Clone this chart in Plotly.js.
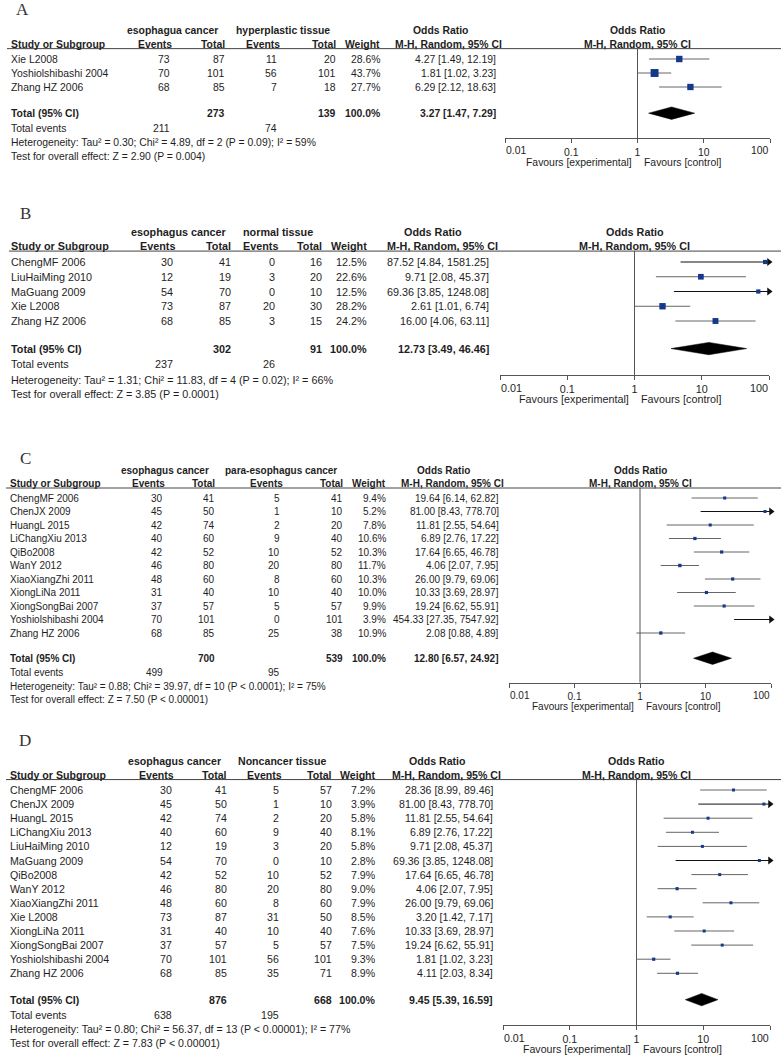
<!DOCTYPE html>
<html><head><meta charset="utf-8">
<script src="https://cdn.plot.ly/plotly-3.0.1.min.js"></script>
<style>html,body{margin:0;padding:0;background:#fff}#chart{width:781px;height:1056px}</style>
</head><body><div id="chart"></div>
<script>
// ---------- Panel A: esophagus cancer vs hyperplastic tissue ----------
const groupsA = ["esophagua cancer", "hyperplastic tissue"];
const studiesA = ["Xie L2008", "Yoshiolshibashi 2004", "Zhang HZ 2006"];
const evExpA = [73, 70, 68];
const totExpA = [87, 101, 85];
const evCtlA = [11, 56, 7];
const totCtlA = [20, 101, 18];
const weightA = [28.6, 43.7, 27.7];
const orA = [4.27, 1.81, 6.29];
const loA = [1.49, 1.02, 2.12];
const hiA = [12.19, 3.23, 18.63];
const pooledA = [3.27, 1.47, 7.29];
const sumTotalsA = [273, 139];
const sumEventsA = [211, 74];
const hetA = "Heterogeneity: Tau² = 0.30; Chi² = 4.89, df = 2 (P = 0.09); I² = 59%";
const testA = "Test for overall effect: Z = 2.90 (P = 0.004)";

// ---------- Panel B: esophagus cancer vs normal tissue ----------
const groupsB = ["esophagus cancer", "normal tissue"];
const studiesB = ["ChengMF 2006", "LiuHaiMing 2010", "MaGuang 2009", "Xie L2008", "Zhang HZ 2006"];
const evExpB = [30, 12, 54, 73, 68];
const totExpB = [41, 19, 70, 87, 85];
const evCtlB = [0, 3, 0, 20, 3];
const totCtlB = [16, 20, 10, 30, 15];
const weightB = [12.5, 22.6, 12.5, 28.2, 24.2];
const orB = [87.52, 9.71, 69.36, 2.61, 16.00];
const loB = [4.84, 2.08, 3.85, 1.01, 4.06];
const hiB = [1581.25, 45.37, 1248.08, 6.74, 63.11];
const pooledB = [12.73, 3.49, 46.46];
const sumTotalsB = [302, 91];
const sumEventsB = [237, 26];
const hetB = "Heterogeneity: Tau² = 1.31; Chi² = 11.83, df = 4 (P = 0.02); I² = 66%";
const testB = "Test for overall effect: Z = 3.85 (P = 0.0001)";

// ---------- Panel C: esophagus cancer vs para-esophagus cancer ----------
const groupsC = ["esophagus cancer", "para-esophagus cancer"];
const studiesC = ["ChengMF 2006", "ChenJX 2009", "HuangL 2015", "LiChangXiu 2013", "QiBo2008", "WanY 2012",
  "XiaoXiangZhi 2011", "XiongLiNa 2011", "XiongSongBai 2007", "Yoshiolshibashi 2004", "Zhang HZ 2006"];
const evExpC = [30, 45, 42, 40, 42, 46, 48, 31, 37, 70, 68];
const totExpC = [41, 50, 74, 60, 52, 80, 60, 40, 57, 101, 85];
const evCtlC = [5, 1, 2, 9, 10, 20, 8, 10, 5, 0, 25];
const totCtlC = [41, 10, 20, 40, 52, 80, 60, 40, 57, 101, 38];
const weightC = [9.4, 5.2, 7.8, 10.6, 10.3, 11.7, 10.3, 10.0, 9.9, 3.9, 10.9];
const orC = [19.64, 81.00, 11.81, 6.89, 17.64, 4.06, 26.00, 10.33, 19.24, 454.33, 2.08];
const loC = [6.14, 8.43, 2.55, 2.76, 6.65, 2.07, 9.79, 3.69, 6.62, 27.35, 0.88];
const hiC = [62.82, 778.70, 54.64, 17.22, 46.78, 7.95, 69.06, 28.97, 55.91, 7547.92, 4.89];
const pooledC = [12.80, 6.57, 24.92];
const sumTotalsC = [700, 539];
const sumEventsC = [499, 95];
const hetC = "Heterogeneity: Tau² = 0.88; Chi² = 39.97, df = 10 (P < 0.0001); I² = 75%";
const testC = "Test for overall effect: Z = 7.50 (P < 0.00001)";

// ---------- Panel D: esophagus cancer vs noncancer tissue ----------
const groupsD = ["esophagus cancer", "Noncancer tissue"];
const studiesD = ["ChengMF 2006", "ChenJX 2009", "HuangL 2015", "LiChangXiu 2013", "LiuHaiMing 2010", "MaGuang 2009",
  "QiBo2008", "WanY 2012", "XiaoXiangZhi 2011", "Xie L2008", "XiongLiNa 2011", "XiongSongBai 2007",
  "Yoshiolshibashi 2004", "Zhang HZ 2006"];
const evExpD = [30, 45, 42, 40, 12, 54, 42, 46, 48, 73, 31, 37, 70, 68];
const totExpD = [41, 50, 74, 60, 19, 70, 52, 80, 60, 87, 40, 57, 101, 85];
const evCtlD = [5, 1, 2, 9, 3, 0, 10, 20, 8, 31, 10, 5, 56, 35];
const totCtlD = [57, 10, 20, 40, 20, 10, 52, 80, 60, 50, 40, 57, 101, 71];
const weightD = [7.2, 3.9, 5.8, 8.1, 5.8, 2.8, 7.9, 9.0, 7.9, 8.5, 7.6, 7.5, 9.3, 8.9];
const orD = [28.36, 81.00, 11.81, 6.89, 9.71, 69.36, 17.64, 4.06, 26.00, 3.20, 10.33, 19.24, 1.81, 4.11];
const loD = [8.99, 8.43, 2.55, 2.76, 2.08, 3.85, 6.65, 2.07, 9.79, 1.42, 3.69, 6.62, 1.02, 2.03];
const hiD = [89.46, 778.70, 54.64, 17.22, 45.37, 1248.08, 46.78, 7.95, 69.06, 7.17, 28.97, 55.91, 3.23, 8.34];
const pooledD = [9.45, 5.39, 16.59];
const sumTotalsD = [876, 668];
const sumEventsD = [638, 195];
const hetD = "Heterogeneity: Tau² = 0.80; Chi² = 56.37, df = 13 (P < 0.00001); I² = 77%";
const testD = "Test for overall effect: Z = 7.83 (P < 0.00001)";

const tickVals = [0.01, 0.1, 1, 10, 100];
const tickText = ["0.01", "0.1", "1", "10", "100"];
const favLeft = "Favours [experimental]";
const favRight = "Favours [control]";

// ---------- layout (positions / styles) ----------
const W = 781, H = 1056;
const FONT = "Liberation Sans, Arial, sans-serif";
const TXT = "#1e1e1e";
const last = tickText.length - 1;
// end labels are drawn as annotations (first starts at its tick, last ends at its tick, RevMan style)
const axisTickText = tickText.map((t, i) => (i === 0 || i === last) ? "" : t);

const panels = [
  {letter: "A", d: [groupsA, studiesA, evExpA, totExpA, evCtlA, totCtlA, weightA, orA, loA, hiA, pooledA, sumTotalsA, sumEventsA, hetA, testA],
   letterX: 22, letterY: 9, y0: 59, sp: 14, top: 0, bot: 172, fs: 10.4, studyX: 10, msz: 1.2,
   cols: [171, 226, 278, 337, 381], orX: 497, g1: 126, g2: 235, fx0: 505, fx1: 770, ruleX: 7},
  {letter: "B", d: [groupsB, studiesB, evExpB, totExpB, evCtlB, totCtlB, weightB, orB, loB, hiB, pooledB, sumTotalsB, sumEventsB, hetB, testB],
   letterX: 25, letterY: 213, y0: 262, sp: 14.75, top: 175, bot: 412, fs: 10.8, studyX: 10, msz: 1.2,
   cols: [174, 232, 276, 323, 368], orX: 490, g1: 130, g2: 242, fx0: 500, fx1: 769, ruleX: 9},
  {letter: "C", d: [groupsC, studiesC, evExpC, totExpC, evCtlC, totCtlC, weightC, orC, loC, hiC, pooledC, sumTotalsC, sumEventsC, hetC, testC],
   letterX: 25, letterY: 458, y0: 498, sp: 13.5, top: 415, bot: 712, fs: 10.0, studyX: 9, msz: 1.0,
   cols: [164, 216, 281, 344, 387], orX: 500, g1: 120, g2: 224, fx0: 509, fx1: 771, ruleX: 6},
  {letter: "D", d: [groupsD, studiesD, evExpD, totExpD, evCtlD, totCtlD, weightD, orD, loD, hiD, pooledD, sumTotalsD, sumEventsD, hetD, testD],
   letterX: 25, letterY: 740, y0: 790, sp: 14.1, top: 715, bot: 1056, fs: 10.6, studyX: 9, msz: 1.05,
   cols: [173, 228, 280, 333, 377], orX: 494, g1: 127, g2: 237, fx0: 503, fx1: 770, ruleX: 6}
];

const traces = [];
const annotations = [];
const shapes = [];
const layout = {
  width: W, height: H, margin: {l: 0, r: 0, t: 0, b: 0},
  paper_bgcolor: "#fff", plot_bgcolor: "rgba(0,0,0,0)", showlegend: false,
  font: {family: FONT, color: TXT, size: 10}
};

panels.forEach((p, idx) => {
  const k = idx + 1;
  const xa = "x" + k, ya = "y" + k;
  const [groups, studies, e1, t1, e2, t2, w, or, lo, hi, pooled, sumT, sumE, het, test] = p.d;
  const n = studies.length;
  const rowPx = r => p.y0 + r * p.sp;
  const totRow = n + 0.87, evRow = totRow + 1.07, hetRow = totRow + 2.1, testRow = totRow + 3.07;
  const axisRow = totRow + 1.8, favRow = axisRow + 24 / p.sp, tickRow = axisRow + 12.5 / p.sp;
  const h1 = -2.05, h2 = -1.07, ruleRow = -0.74;
  const oneX = (p.fx0 + p.fx1) / 2;

  layout["xaxis" + k] = {
    type: "log", range: [-2, 2], domain: [p.fx0 / W, p.fx1 / W], anchor: "free",
    position: 1 - rowPx(axisRow) / H, showline: true, linecolor: "#555", linewidth: 1,
    ticks: "outside", ticklen: 4, tickcolor: "#555", tickwidth: 1,
    tickvals: tickVals, ticktext: axisTickText, tickfont: {family: FONT, size: p.fs, color: TXT},
    showgrid: false, zeroline: false, fixedrange: true
  };
  layout["yaxis" + k] = {
    domain: [1 - p.bot / H, 1 - p.top / H], range: [(p.bot - p.y0) / p.sp, (p.top - p.y0) / p.sp],
    visible: false, anchor: xa, fixedrange: true
  };

  const ann = (text, xpx, row, anchor, bold, extra) => {
    annotations.push(Object.assign({
      text: bold ? "<b>" + text + "</b>" : String(text), xref: "paper", yref: ya,
      x: xpx / W, y: row, xanchor: anchor, yanchor: "middle", showarrow: false,
      font: {family: FONT, size: p.fs, color: TXT}, borderpad: 0
    }, extra || {}));
  };

  // panel letter
  ann(p.letter, p.letterX, (p.letterY - p.y0) / p.sp, "center", false,
      {font: {family: "Liberation Serif, Times New Roman, serif", size: 17, color: "#333"}});

  // headers
  ann(groups[0], p.g1, h1, "left", true);
  ann(groups[1], p.g2, h1, "left", true);
  ann("Odds Ratio", p.orX - 57, h1, "center", true);
  ann("Odds Ratio", oneX, h1, "center", true);
  ann("Study or Subgroup", p.studyX, h2, "left", true);
  ann("Events", p.cols[0] + 2, h2, "right", true);
  ann("Total", p.cols[1], h2, "right", true);
  ann("Events", p.cols[2] + 3, h2, "right", true);
  ann("Total", p.cols[3], h2, "right", true);
  ann("Weight", p.cols[4], h2, "right", true);
  ann("M-H, Random, 95% CI", p.orX - 48, h2, "center", true);
  ann("M-H, Random, 95% CI", oneX, h2, "center", true);

  // study rows
  for (let i = 0; i < n; i++) {
    ann(studies[i], p.studyX, i, "left");
    ann(e1[i], p.cols[0], i, "right");
    ann(t1[i], p.cols[1], i, "right");
    ann(e2[i], p.cols[2], i, "right");
    ann(t2[i], p.cols[3], i, "right");
    ann(w[i].toFixed(1) + "%", p.cols[4], i, "right");
    ann(or[i].toFixed(2) + " [" + lo[i].toFixed(2) + ", " + hi[i].toFixed(2) + "]", p.orX, i, "right");
  }
  // totals
  ann("Total (95% CI)", p.studyX, totRow, "left", true);
  ann(sumT[0], p.cols[1], totRow, "right", true);
  ann(sumT[1], p.cols[3], totRow, "right", true);
  ann("100.0%", p.cols[4], totRow, "right", true);
  ann(pooled[0].toFixed(2) + " [" + pooled[1].toFixed(2) + ", " + pooled[2].toFixed(2) + "]", p.orX, totRow, "right", true);
  ann("Total events", p.studyX, evRow, "left");
  ann(sumE[0], p.cols[0], evRow, "right");
  ann(sumE[1], p.cols[2], evRow, "right");
  ann(het, p.studyX, hetRow, "left");
  ann(test, p.studyX, testRow, "left");
  // end tick labels of the OR axis
  ann(tickText[0], p.fx0, tickRow, "left");
  ann(tickText[last], p.fx1, tickRow, "right");
  // favours labels
  ann(favLeft, oneX - 5, favRow, "right");
  ann(favRight, oneX + 5, favRow, "left");

  // header rule and line of no effect
  shapes.push({type: "line", xref: "paper", yref: ya, x0: p.ruleX / W, x1: 1, y0: ruleRow, y1: ruleRow,
               line: {color: "#444", width: 1}});
  shapes.push({type: "line", xref: xa, yref: ya, x0: 1, x1: 1, y0: ruleRow, y1: axisRow,
               line: {color: "#555", width: 1}});

  // CI lines
  const nx = [], ny = [], ax = [], ay = [], arX = [], arY = [];
  for (let i = 0; i < n; i++) {
    if (hi[i] > 100) { ax.push(lo[i], hi[i], null); ay.push(i, i, null); arX.push(100); arY.push(i); }
    else { nx.push(lo[i], hi[i], null); ny.push(i, i, null); }
  }
  traces.push({type: "scatter", mode: "lines", x: nx, y: ny, xaxis: xa, yaxis: ya,
               line: {color: "#666", width: 1}, hoverinfo: "skip"});
  traces.push({type: "scatter", mode: "lines", x: ax, y: ay, xaxis: xa, yaxis: ya,
               line: {color: "#111", width: 1}, hoverinfo: "skip"});
  // study squares (area ~ weight)
  traces.push({type: "scatter", mode: "markers", x: or, y: studies.map((s, i) => i), xaxis: xa, yaxis: ya,
               marker: {symbol: "square", color: "#15388c", opacity: 1,
                        size: w.map(v => Math.max(3, p.msz * Math.sqrt(v))), line: {width: 0}},
               hoverinfo: "skip"});
  // arrows for CIs beyond the axis
  traces.push({type: "scatter", mode: "markers", x: arX, y: arY, xaxis: xa, yaxis: ya, cliponaxis: false,
               marker: {symbol: "triangle-right", color: "#111", size: 7, opacity: 1, line: {width: 0}},
               hoverinfo: "skip"});
  // pooled diamond
  const hh = 6.2 / p.sp;
  traces.push({type: "scatter", mode: "lines", xaxis: xa, yaxis: ya, fill: "toself", fillcolor: "#000",
               x: [pooled[1], pooled[0], pooled[2], pooled[0], pooled[1]],
               y: [totRow, totRow - hh, totRow, totRow + hh, totRow],
               line: {color: "#000", width: 0.5}, hoverinfo: "skip"});
});

layout.annotations = annotations;
layout.shapes = shapes;
Plotly.newPlot("chart", traces, layout, {staticPlot: true, displayModeBar: false});
</script>
</body></html>
